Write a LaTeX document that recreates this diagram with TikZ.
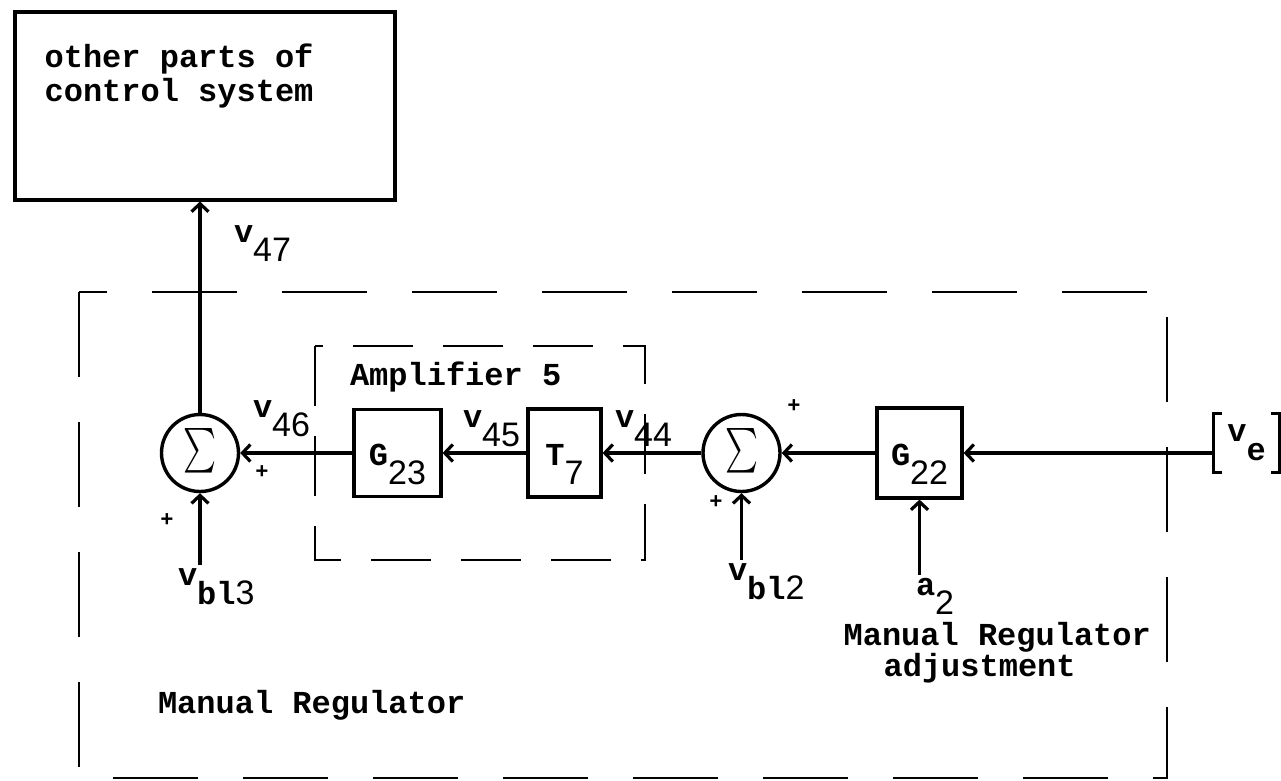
\documentclass[tikz,border=0pt]{standalone}
\usepackage{fontspec}
\usepackage{graphicx}
\setmainfont{Liberation Mono}
\newfontfamily\letterfont{Liberation Sans}
\usetikzlibrary{arrows.meta,positioning}

% signal name with a lowered index, index digits in lettering font
\newcommand{\sig}[2]{#1\lower19pt\hbox{#2}}
\newcommand{\dig}[1]{{\letterfont\mdseries\fontsize{34}{34}\selectfont #1}}

\begin{document}
\begin{tikzpicture}[x=1pt, y=-1pt, line width=3.2pt,
    font=\fontsize{32}{34}\selectfont\bfseries]
  \useasboundingbox (0,0) rectangle (1281,780);

  % 1. Styles
  \tikzstyle{Block} = [draw, rectangle, inner sep=0pt, text height=44pt, text depth=20pt]
  \tikzstyle{Sum} = [draw, circle, minimum size=77pt, inner sep=0pt, line width=3.4pt]
  \tikzstyle{Label} = [inner sep=0pt, outer sep=3pt, anchor=base west]
  \tikzstyle{Plus} = [inner sep=0pt, font=\fontsize{22}{22}\selectfont\bfseries]
  \tikzstyle{Flow} = [-{Straight Barb[length=8pt,width=17pt]}]
  \tikzstyle{Boundary} = [line width=2.4pt, dash pattern=on 85pt off 45pt]

  % 2. Summing points and blocks on the main line
  \node[Sum] (sumL) at (200,453) {\resizebox{33pt}{50pt}{$\sum$}};
  \node[Block, minimum width=87pt, minimum height=87pt] (G23) at (397.5,453) {\sig{G}{\dig{23}}};
  \node[Block, minimum width=73pt, minimum height=88pt] (T7) at (564.5,453) {\sig{T}{\dig{7}}};
  \node[Sum] (sumR) at (741.5,453) {\resizebox{33pt}{50pt}{$\sum$}};
  \node[Block, minimum width=85pt, minimum height=90pt] (G22) at (919.5,453) {\sig{G}{\dig{22}}};
  \node[minimum width=63pt, minimum height=56pt, inner sep=0pt] (ve) at (1246.5,443) {\sig{v}{e}};

  % 3. Box for the rest of the system
  \node[draw, minimum width=380pt, minimum height=188pt, anchor=north west] (others) at (13.3,10.3) {};
  \node[inner sep=0pt, anchor=north west, align=left] (otherstxt) at (43,42) {other parts of\\control system};

  % 4. Dashed frames
  \draw[Boundary] (79,292) rectangle (1167,778);                      % manual regulator
  \draw[Boundary, dash pattern=on 60pt off 30pt] (315,346) rectangle (645,560); % amplifier 5

  % 5. Texts and signal names
  \node[Label] (amptxt) at (347,385) {Amplifier 5};
  \node[Label] (regtxt) at (155,713) {Manual Regulator};
  \node[inner sep=0pt, anchor=north west, align=left, font=\fontsize{32}{28}\selectfont\bfseries]
    (adjtxt) at (842,621) {Manual Regulator\\\hspace*{40pt}adjustment};
  \node[Label] (v47) at (231,242) {\sig{v}{\dig{47}}};
  \node[Label] (v46) at (250,417) {\sig{v}{\dig{46}}};
  \node[Label] (v45) at (460,427) {\sig{v}{\dig{45}}};
  \node[Label] (v44) at (612,427) {\sig{v}{\dig{44}}};
  \node[Label] (vb13) at (175,585) {\sig{v}{bl\dig{3}}};
  \node[Label] (vb12) at (725,580) {\sig{v}{bl\dig{2}}};
  \node[Label] (a2) at (913,595) {\sig{a}{\dig{2}}};

  % 6. Signs at the summing points
  \node[Plus] (pLb) at (167,520) {+};
  \node[Plus] (pLr) at (262,472) {+};
  \node[Plus] (pRt) at (794,406) {+};
  \node[Plus] (pRb) at (716,502) {+};

  % 7. Signal flow
  \draw[Flow] (G22.east -| ve.west) -- (G22.east);
  \draw[Flow] (G22.west) -- (sumR.east);
  \draw[Flow] (sumR.west) -- (T7.east);
  \draw[Flow] (T7.west) -- (G23.east);
  \draw[Flow] (G23.west) -- (sumL.east);
  \draw[Flow] (sumL.north) -- (sumL.north |- others.south);
  \draw[Flow] (sumL.south |- vb13.north) -- (sumL.south);
  \draw[Flow] (sumR.south |- vb12.north) -- (sumR.south);
  \draw[Flow] (G22.south |- a2.north) -- (G22.south);

  % 8. Brackets round v_e
  \draw ([xshift=9pt]ve.north west) -- (ve.north west) -- (ve.south west) -- ([xshift=9pt]ve.south west);
  \draw ([xshift=-9pt]ve.north east) -- (ve.north east) -- (ve.south east) -- ([xshift=-9pt]ve.south east);
\end{tikzpicture}
\end{document}
